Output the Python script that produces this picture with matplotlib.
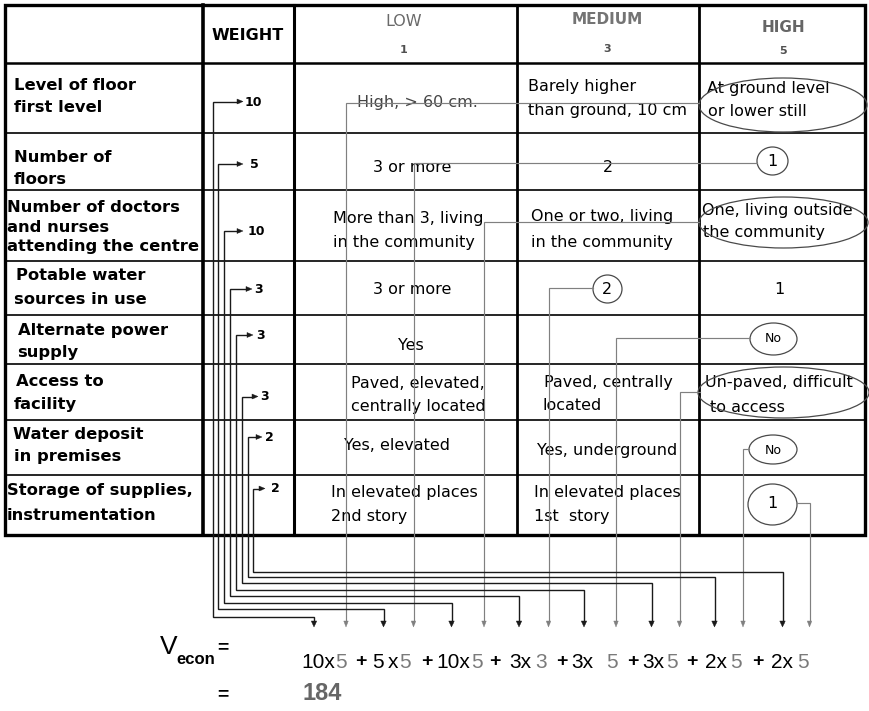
import matplotlib
matplotlib.use('Agg')
import matplotlib.pyplot as plt
from matplotlib import font_manager
from matplotlib.patches import Ellipse, Polygon, Rectangle

# ---------------- data ----------------
criteria = [
    ["Level of floor", "first level"],
    ["Number of", "floors"],
    ["Number of doctors", "and nurses", "attending the centre"],
    ["Potable water", "sources in use"],
    ["Alternate power", "supply"],
    ["Access to", "facility"],
    ["Water deposit", "in premises"],
    ["Storage of supplies,", "instrumentation"],
]
weights = [10, 5, 10, 3, 3, 3, 2, 2]
levels = ["LOW", "MEDIUM", "HIGH"]
level_scores = [1, 3, 5]
low_text = [
    ["High, > 60 cm."], ["3 or more"], ["More than 3, living", "in the community"],
    ["3 or more"], ["Yes"], ["Paved, elevated,", "centrally located"],
    ["Yes, elevated"], ["In elevated places", "2nd story"],
]
medium_text = [
    ["Barely higher", "than ground, 10 cm"], ["2"], ["One or two, living", "in the community"],
    ["2"], [], ["Paved, centrally", "located"],
    ["Yes, underground"], ["In elevated places", "1st  story"],
]
high_text = [
    ["At ground level", "or lower still"], ["1"], ["One, living outside", "the community"],
    ["1"], ["No"], ["Un-paved, difficult", "to access"],
    ["No"], ["1"],
]
chosen_level = [2, 2, 2, 1, 2, 2, 2, 2]   # index into levels
total = 184

# ---------------- layout ----------------
W, H = 869, 711
fig = plt.figure(figsize=(W / 100, H / 100), dpi=100)
ax = fig.add_axes([0, 0, 1, 1])
ax.set_xlim(0, W)
ax.set_ylim(H, 0)
ax.axis('off')

row_y = [5, 63, 133, 190, 261, 315, 364, 420, 475, 535]
col_x = [5, 203, 294, 517, 699, 865]

SANS = ['DejaVu Sans']
ARIAL = ['Liberation Sans', 'DejaVu Sans']
try:
    font_manager.findfont(font_manager.FontProperties(family='Liberation Sans Narrow'),
                          fallback_to_default=False)
    NARROW = ['Liberation Sans Narrow', 'Liberation Sans']
    FS = 16.5
except Exception:
    NARROW = ARIAL
    FS = 15

# table grid
for y in row_y[2:-1]:
    ax.plot([col_x[0], col_x[-1]], [y, y], color='black', lw=1.2, zorder=2)
ax.plot([col_x[0], col_x[-1]], [row_y[1], row_y[1]], color='black', lw=1.8, zorder=2)
for x, lw in zip(col_x[1:-1], [2.6, 2.2, 2.0, 2.0]):
    ax.plot([x, x], [row_y[0], row_y[-1]], color='black', lw=lw, zorder=2)
ax.add_patch(Rectangle((col_x[0], row_y[0]), col_x[-1] - col_x[0], row_y[-1] - row_y[0],
                       fill=False, ec='black', lw=2.4, zorder=3))

# header
ax.text(248, 35, "WEIGHT", ha='center', va='center', fontsize=11.5, fontweight='bold',
        family=SANS, color='black')
hdr = [(404, 21, 50, 'normal', '#6a6a6a', 11.5), (607, 20, 49, 'bold', '#747474', 11),
       (783, 27, 51, 'bold', '#666666', 11)]
for name, sc, (x, y1, y2, fw, c, fs) in zip(levels, level_scores, hdr):
    ax.text(x, y1, name, ha='center', va='center', fontsize=fs, fontweight=fw, family=SANS, color=c)
    ax.text(x, y2, str(sc), ha='center', va='center', fontsize=8, fontweight='bold',
            family=SANS, color='#505050')

# row labels
label_pos = [
    [(14, 86), (14, 108)],
    [(14, 157), (14, 180)],
    [(7, 208), (7, 227), (7, 247)],
    [(16, 276), (14, 300)],
    [(18, 330), (17, 352)],
    [(16, 381), (14, 405)],
    [(13, 435), (14, 457)],
    [(7, 490), (7, 515)],
]
for lines, poss in zip(criteria, label_pos):
    for t, (x, y) in zip(lines, poss):
        ax.text(x, y, t, ha='left', va='center', fontsize=11.8, fontweight='bold',
                family=SANS, color='black')

# cell texts layout: list of (x, y, ha) per line
CF = 11.5
low_pos = [
    [(417, 103, 'center')], [(412, 168, 'center')], [(333, 219, 'left'), (333, 242, 'left')],
    [(412, 289, 'center')], [(411, 345, 'center')], [(351, 383, 'left'), (351, 406, 'left')],
    [(344, 446, 'left')], [(331, 492, 'left'), (331, 517, 'left')],
]
med_pos = [
    [(528, 87, 'left'), (528, 111, 'left')], [(608, 167, 'center')],
    [(531, 217, 'left'), (531, 242, 'left')],
    [(607, 289, 'center')], [], [(544, 383, 'left'), (543, 406, 'left')],
    [(537, 450, 'left')], [(534, 493, 'left'), (534, 517, 'left')],
]
high_pos = [
    [(707, 88, 'left'), (708, 111, 'left')], [(772.5, 161, 'center')],
    [(702, 210, 'left'), (703, 232, 'left')],
    [(779, 290, 'center')], [(773.5, 339, 'center')], [(705, 383, 'left'), (710, 408, 'left')],
    [(773, 450, 'center')], [(772.5, 504, 'center')],
]
for texts, poss in [(low_text, low_pos), (medium_text, med_pos), (high_text, high_pos)]:
    for r, (lines, pp) in enumerate(zip(texts, poss)):
        for t, (x, y, ha) in zip(lines, pp):
            fs = 9 if t == "No" else CF
            col = '#444444' if t.startswith("High,") else 'black'
            ax.text(x, y, t, ha=ha, va='center', fontsize=fs, family=SANS, color=col, zorder=1)

# ellipses around chosen answers: (cx, cy, w, h)
ell = [(783, 105, 168, 54), (772.5, 161, 31, 28), (783.5, 222.5, 169, 51), (607.5, 289, 29, 28),
       (773.5, 339, 47, 32), (783.5, 392.5, 171, 51), (773, 449.5, 48, 29), (772.5, 504.5, 49, 41)]
for cx, cy, w, h in ell:
    ax.add_patch(Ellipse((cx, cy), w, h, fill=False, ec='#4a4a4a', lw=0.9, zorder=4))

# ---------------- connectors ----------------
BLK = '#1a1a1a'
GRY = '#808080'
tip_y = 627


def head_down(x, color, w=5.5, h=6):
    ax.add_patch(Polygon([(x - w / 2, tip_y - h), (x + w / 2, tip_y - h), (x, tip_y)],
                         closed=True, fc=color, ec=color, lw=0.3, zorder=5))


def head_right(x, y, color, w=5, h=6):
    ax.add_patch(Polygon([(x - h, y - w / 2), (x - h, y + w / 2), (x, y)],
                         closed=True, fc=color, ec=color, lw=0.3, zorder=5))


# weight connectors
w_vx = [212.5 + 5.85 * k for k in range(8)]
w_ay = [101.5, 164, 231, 289, 335, 396.5, 437, 488.5]
w_tipx = [243, 243, 243, 252, 253, 258, 262, 265]
w_txtx = [245, 250, 248, 254, 256, 260, 265, 271]
w_hy = [617.3, 609.3, 602.7, 596, 590, 583.3, 577.3, 571.7]
w_bx = [314, 383.5, 451.5, 519, 584, 651.5, 714.5, 782.5]
for k, wt in enumerate(weights):
    ax.plot([w_tipx[k] - 4, w_vx[k], w_vx[k], w_bx[k], w_bx[k]],
            [w_ay[k], w_ay[k], w_hy[k], w_hy[k], tip_y - 4], color=BLK, lw=1.0, zorder=5,
            solid_joinstyle='miter')
    head_right(w_tipx[k], w_ay[k], BLK)
    head_down(w_bx[k], BLK)
    ax.text(w_txtx[k], w_ay[k] + 0.5, str(wt), ha='left', va='center', fontsize=9,
            fontweight='bold', family=SANS, color='black')

# score connectors: start point at the chosen answer, vertical x
s_start = [(699, 102.7), (757, 163.3), (699, 222.3), (593, 288), (750, 338), (700, 391.7),
           (749, 449), (797, 503)]
s_bx = [346, 413.5, 484, 548.5, 616, 679.5, 743, 809.5]
for k in range(8):
    sx, sy = s_start[k]
    ax.plot([sx, s_bx[k], s_bx[k]], [sy, sy, tip_y - 4], color=GRY, lw=0.85, zorder=4,
            solid_joinstyle='miter')
    head_down(s_bx[k], GRY, w=4.5, h=6)

# ---------------- formula ----------------
FY = 662
scores = [level_scores[c] for c in chosen_level]
# per term: weight left edge, separate "x" left edge (None = joined to weight), score left edge,
# plus centre
term_x = [
    (301, None, 335.5, 361), (372, 388, 399.5, 427), (436.5, None, 471, 495),
    (509, None, 535.5, 562), (571.5, None, 606, 633), (642.5, None, 666, 692),
    (705.5, None, 730, 758), (771.5, None, 797.5, None),
]
for (wx, xx, sx, px), wt, sc in zip(term_x, weights, scores):
    if xx is None:
        ax.text(wx, FY, f"{wt}x", ha='left', va='center', fontsize=FS, family=NARROW,
                color='black')
    else:
        ax.text(wx, FY, str(wt), ha='left', va='center', fontsize=FS, family=NARROW,
                color='black')
        ax.text(xx, FY, "x", ha='left', va='center', fontsize=FS, family=NARROW, color='black')
    ax.text(sx, FY, str(sc), ha='left', va='center', fontsize=FS, family=NARROW, color='#7a7a7a')
    if px is not None:
        ax.text(px, FY - 0.5, "+", ha='center', va='center', fontsize=14, fontweight='bold',
                family=ARIAL, color='black')

ax.text(160, 647, "V", ha='left', va='center', fontsize=19, family=ARIAL, color='black')
ax.text(176, 660, "econ", ha='left', va='center', fontsize=12, fontweight='bold',
        family=ARIAL, color='black')
ax.text(223, 648, "=", ha='center', va='center', fontsize=14, fontweight='bold',
        family=ARIAL, color='black')
ax.text(223, 695, "=", ha='center', va='center', fontsize=14, fontweight='bold',
        family=ARIAL, color='black')
ax.text(303, 694, str(total), ha='left', va='center', fontsize=17, fontweight='bold',
        family=NARROW, color='#666666')

fig.savefig('out.png', dpi=100)
